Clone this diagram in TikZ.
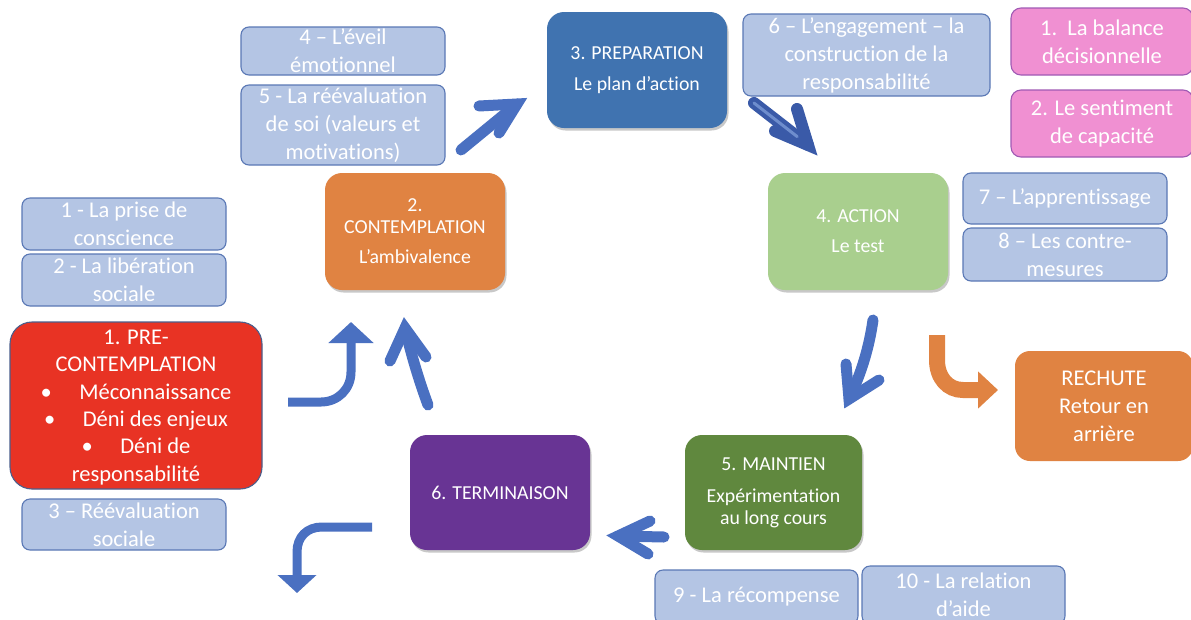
\documentclass[tikz,border=0pt]{standalone}
\usepackage{fontspec}
\setmainfont{Carlito}[Ligatures=NoCommon]
\usetikzlibrary{arrows.meta,shadows,calc}
\definecolor{lbfill}{HTML}{B4C5E4}
\definecolor{lbline}{HTML}{5A78B5}
\definecolor{pinkfill}{HTML}{F090D2}
\definecolor{pinkline}{HTML}{A05AB4}
\definecolor{contorange}{HTML}{E08342}
\definecolor{prepblue}{HTML}{4073B0}
\definecolor{actgreen}{HTML}{A9CF8E}
\definecolor{maingreen}{HTML}{60883E}
\definecolor{termpurple}{HTML}{683494}
\definecolor{prered}{HTML}{E83324}
\definecolor{preline}{HTML}{4B5F8C}
\definecolor{arrowblue}{HTML}{4A70C1}
\definecolor{arrowdark}{HTML}{3A5AA8}
\newcommand\fLB{\fontsize{22.5}{28}\selectfont}
\newcommand\fRB{\fontsize{22.5}{27.4}\selectfont}
\newcommand\fST{\fontsize{19.8}{22}\selectfont}
\begin{document}
\begin{tikzpicture}[x=1pt,y=-1pt,
  lbox/.style={draw=lbline, fill=lbfill, rounded corners=8pt, line width=1.1pt,
    text=white, font=\fLB, align=center, inner sep=0pt},
  pinkbox/.style={draw=pinkline, fill=pinkfill, rounded corners=10pt, line width=1.1pt,
    text=white, font=\fLB, align=center, inner sep=0pt},
  stage/.style={rounded corners=17pt, text=white, font=\fST, align=center, inner sep=0pt,
    drop shadow={shadow xshift=1.5pt, shadow yshift=-2.5pt, opacity=0.3, fill=black!70}},
  chev/.style={draw=arrowblue, line width=11pt, line cap=round, line join=miter},
  blockarrow/.style={draw=arrowblue, line width=9pt}
]
\useasboundingbox (0,0) rectangle (1191,619);
\fill[white] (0,0) rectangle (1191,619);

% light blue boxes
\node[lbox, minimum width=204pt, minimum height=52pt] (l1) at (124,224) {1 - La prise de\\conscience};
\node[lbox, minimum width=204pt, minimum height=52pt] (l2) at (124,280) {2 - La libération\\sociale};
\node[lbox, minimum width=204pt, minimum height=51pt] (l3) at (124,524.5) {3 – Réévaluation\\sociale};
\node[lbox, minimum width=204pt, minimum height=48pt] (l4) at (343,51) {4 – L’éveil\\émotionnel};
\node[lbox, minimum width=204pt, minimum height=80pt] (l5) at (343,125) {5 - La réévaluation\\de soi (valeurs et\\motivations)};
\node[lbox, minimum width=247pt, minimum height=82pt] (l6) at (866.5,55) {6 – L’engagement – la\\construction de la\\responsabilité};
\node[lbox, minimum width=204pt, minimum height=51pt] (l7) at (1065,198.5) {7 – L’apprentissage};
\node[lbox, minimum width=204pt, minimum height=53pt] (l8) at (1065,254.5) {8 – Les contre-\\mesures};
\node[lbox, minimum width=203pt, minimum height=54pt] (l9) at (756.5,597) {9 - La récompense};
\node[lbox, minimum width=203pt, minimum height=58pt] (l10) at (963.5,595) {10 - La relation\\d’aide};

% pink boxes
\node[pinkbox, minimum width=182pt, minimum height=67pt] (p1) at (1102,41.5) {1.\ \ La balance\\décisionnelle};
\node[pinkbox, minimum width=182pt, minimum height=67pt] (p2) at (1102,123.5) {2. Le sentiment\\de capacité};

% stage boxes
\node[draw=preline, fill=prered, line width=1.1pt, rounded corners=22pt, text=white,
  font=\fRB, align=center, inner sep=0pt, text depth=0pt, minimum width=252pt, minimum height=167pt] (s1) at (136,405.5)
  {1. PRE-\\CONTEMPLATION\\•\quad\ Méconnaissance\\•\quad\ Déni des enjeux\\•\quad\ Déni de\\responsabilité};
\node[stage, fill=contorange, minimum width=180pt, minimum height=117pt] (s2) at (415,231.5)
  {2.\\CONTEMPLATION\\[8pt]L’ambivalence};
\node[stage, fill=prepblue, minimum width=180pt, minimum height=116pt] (s3) at (637,70)
  {3. PREPARATION\\[9pt]Le plan d’action};
\node[stage, fill=actgreen, minimum width=180pt, minimum height=117pt] (s4) at (858,231.5)
  {4. ACTION\\[8pt]Le test};
\node[stage, fill=maingreen, minimum width=177pt, minimum height=115pt] (s5) at (773.5,492.5)
  {5. MAINTIEN\\[10pt]Expérimentation\\au long cours};
\node[stage, fill=termpurple, minimum width=180pt, minimum height=115pt] (s6) at (500,492.5)
  {6. TERMINAISON};
\node[fill=contorange, rounded corners=15pt, text=white, font=\fLB, align=center, inner sep=0pt,
  minimum width=178pt, minimum height=110pt] (r) at (1104,406) {RECHUTE\\Retour en\\arrière};

% hand-drawn chevron arrows
\coordinate (a1s) at (461,150);
\coordinate (a1t) at (517,104);
\coordinate (a1b) at (479,106);
\coordinate (a1c) at (499,133);
\draw[chev] (a1s) -- (a1t);
\draw[chev] (a1b) -- (a1t) -- (a1c);

\coordinate (a2s) at (754,103);
\coordinate (a2t) at (808,145);
\coordinate (a2b) at (775,131);
\coordinate (a2c) at (797,109);
\draw[chev, draw=arrowdark, line width=12pt] (a2s) -- (a2t);
\draw[chev, draw=arrowdark, line width=12pt] (a2b) -- (a2t) -- (a2c);
\draw[draw=arrowblue!80!white, line width=3pt, line cap=round] (a2s) -- ($(a2s)!0.8!(a2t)$);

\coordinate (a3s) at (873,320);
\coordinate (a3t) at (849,399);
\coordinate (a3b) at (846,364);
\coordinate (a3c) at (879,380);
\draw[chev] (a3s) .. controls (868,355) and (858,380) .. (a3t);
\draw[chev] (a3b) -- (a3t) -- (a3c);

\coordinate (a4s) at (428,405);
\coordinate (a4t) at (405,328);
\coordinate (a4b) at (390,361);
\coordinate (a4c) at (426,357);
\draw[chev] (a4s) .. controls (418,378) and (410,350) .. (a4t);
\draw[chev] (a4b) -- (a4t) -- (a4c);

\coordinate (a5s) at (664,537);
\coordinate (a5t) at (618,536);
\coordinate (a5b) at (650,521);
\coordinate (a5c) at (648,554);
\draw[chev] (a5s) -- (a5t);
\draw[chev] (a5b) -- (a5t) -- (a5c);

% block bent arrows
\coordinate (b1s) at (288,402);
\coordinate (b1t) at (351,322);
\draw[blockarrow, -{Triangle[width=44pt,length=21pt]}]
  (b1s) -- (321,402) .. controls (338,402) and (351,389) .. (351,372) -- (b1t);

\coordinate (b2s) at (372,527);
\coordinate (b2t) at (297,593);
\draw[blockarrow, -{Triangle[width=38pt,length=18pt]}]
  (b2s) -- (322,527) .. controls (307,527) and (297,537) .. (297,552) -- (b2t);

\coordinate (b3s) at (937,335);
\coordinate (b3t) at (998,390);
\draw[draw=contorange, line width=16pt, -{Triangle[width=36pt,length=20pt]}]
  (b3s) -- (937,360) .. controls (937,378) and (948,390) .. (963,390) -- (b3t);
\end{tikzpicture}
\end{document}
